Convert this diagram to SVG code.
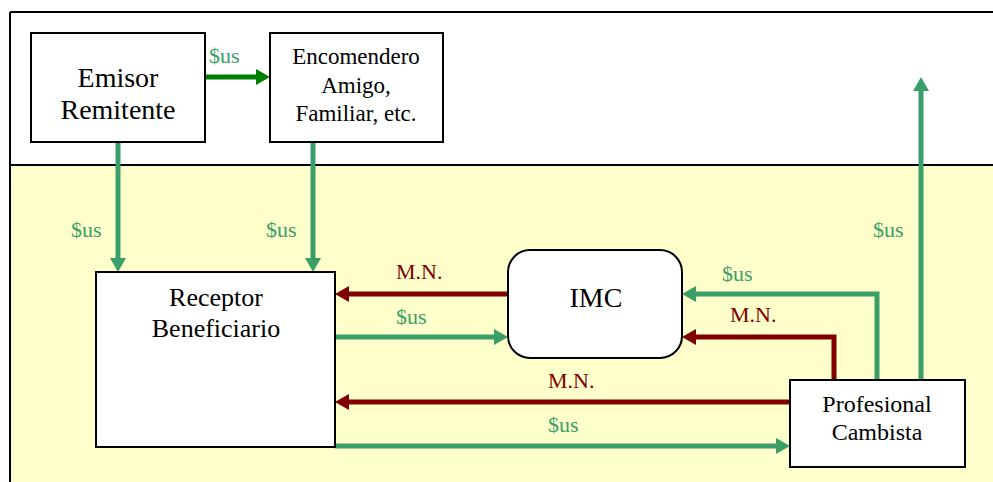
<svg xmlns="http://www.w3.org/2000/svg" width="993" height="482" viewBox="0 0 993 482">
<style>
.box{fill:#fff;stroke:#000;stroke-width:2}
.t{font-family:'Liberation Serif','DejaVu Serif',serif;fill:#000;text-anchor:middle}
.lbl{font-family:'Liberation Serif','DejaVu Serif',serif;font-size:22px}
.g{fill:#3A9E68}
.r{fill:#800000}
.cg{fill:none;stroke:#3A9E68;stroke-width:5}
.cr{fill:none;stroke:#800000;stroke-width:5}
.cd{fill:none;stroke:#008000;stroke-width:5}
</style>
<defs>
<marker id="ag" viewBox="0 0 14 16" refX="0" refY="8" markerWidth="14" markerHeight="16" markerUnits="userSpaceOnUse" orient="auto"><path d="M0,0 L14,8 L0,16 z" fill="#3A9E68"/></marker>
<marker id="ar" viewBox="0 0 14 16" refX="0" refY="8" markerWidth="14" markerHeight="16" markerUnits="userSpaceOnUse" orient="auto"><path d="M0,0 L14,8 L0,16 z" fill="#800000"/></marker>
<marker id="ad" viewBox="0 0 14 16" refX="0" refY="8" markerWidth="14" markerHeight="16" markerUnits="userSpaceOnUse" orient="auto"><path d="M0,0 L14,8 L0,16 z" fill="#008000"/></marker>
</defs>
<rect x="0" y="0" width="993" height="482" fill="#fff"/>
<rect x="10" y="165" width="983" height="317" fill="#FFFFCC"/>
<g id="frame" fill="none" stroke="#000" stroke-width="2">
<line x1="10" y1="12" x2="993" y2="12"/>
<line x1="10" y1="12" x2="10" y2="482"/>
<line x1="10" y1="165" x2="993" y2="165"/>
</g>
<g id="connectors">
<line class="cd" x1="205" y1="77" x2="256" y2="77" marker-end="url(#ad)"/>
<line class="cg" x1="118" y1="142" x2="118" y2="258" marker-end="url(#ag)"/>
<line class="cg" x1="313" y1="142" x2="313" y2="258" marker-end="url(#ag)"/>
<line class="cr" x1="508" y1="294" x2="349" y2="294" marker-end="url(#ar)"/>
<line class="cg" x1="335" y1="337" x2="494" y2="337" marker-end="url(#ag)"/>
<line class="cr" x1="790" y1="402" x2="349" y2="402" marker-end="url(#ar)"/>
<line class="cg" x1="335" y1="446" x2="776" y2="446" marker-end="url(#ag)"/>
<polyline class="cg" points="877,380 877,294 696,294" marker-end="url(#ag)"/>
<polyline class="cr" points="834,380 834,337 696,337" marker-end="url(#ar)"/>
<line class="cg" x1="921" y1="380" x2="921" y2="91" marker-end="url(#ag)"/>
<text class="lbl g" x="209" y="63">$us</text>
<text class="lbl g" x="71" y="237">$us</text>
<text class="lbl g" x="266" y="237">$us</text>
<text class="lbl g" x="873" y="237">$us</text>
<text class="lbl r" x="396" y="279">M.N.</text>
<text class="lbl g" x="396" y="324">$us</text>
<text class="lbl g" x="722" y="281">$us</text>
<text class="lbl r" x="730" y="322">M.N.</text>
<text class="lbl r" x="548" y="388">M.N.</text>
<text class="lbl g" x="548" y="432">$us</text>
</g>
<g id="emisor">
<rect class="box" x="31" y="33" width="174" height="109"/>
<text class="t" font-size="28" x="118" y="87">Emisor</text>
<text class="t" font-size="28" x="118" y="119">Remitente</text>
</g>
<g id="encomendero">
<rect class="box" x="270" y="33" width="173" height="109"/>
<text class="t" font-size="23" x="356" y="64">Encomendero</text>
<text class="t" font-size="23" x="356" y="93">Amigo,</text>
<text class="t" font-size="23" x="356" y="121">Familiar, etc.</text>
</g>
<g id="receptor">
<rect class="box" x="96" y="272" width="239" height="175"/>
<text class="t" font-size="26" x="216" y="306">Receptor</text>
<text class="t" font-size="26" x="216" y="337">Beneficiario</text>
</g>
<g id="imc">
<rect class="box" x="508" y="250" width="174" height="108" rx="22" ry="22"/>
<text class="t" font-size="28" x="596" y="307">IMC</text>
</g>
<g id="profesional">
<rect class="box" x="790" y="380" width="175" height="87"/>
<text class="t" font-size="24" x="877" y="412">Profesional</text>
<text class="t" font-size="24" x="877" y="440">Cambista</text>
</g>
</svg>
